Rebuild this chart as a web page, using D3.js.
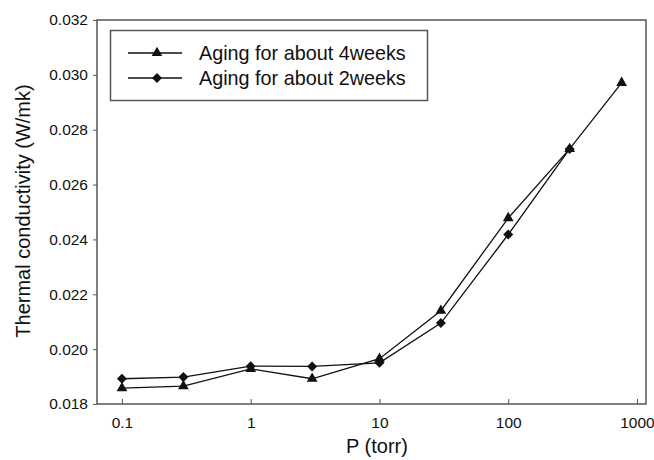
<!DOCTYPE html>
<html>
<head>
<meta charset="utf-8">
<script src="https://cdn.jsdelivr.net/npm/d3@7/dist/d3.min.js"></script>
<style>
  html, body { margin: 0; padding: 0; background: #fff; }
  svg { display: block; font-family: "Liberation Sans", Arial, sans-serif; }
</style>
</head>
<body>
<svg id="chart" width="654" height="460"></svg>
<script>
// Pressure (torr) for each measurement
const pressure4w = [0.1, 0.3, 1, 3, 10, 30, 100, 300, 760];
const conductivity4w = [0.01858, 0.01865, 0.01928, 0.01892, 0.01965, 0.0214, 0.02478, 0.0273, 0.02971];
const pressure2w = [0.1, 0.3, 1, 3, 10, 30, 100, 300];
const conductivity2w = [0.01892, 0.01898, 0.01938, 0.01937, 0.0195, 0.02095, 0.02418, 0.0273];

const xTicks = [0.1, 1, 10, 100, 1000];
const yTicks = [0.018, 0.020, 0.022, 0.024, 0.026, 0.028, 0.030, 0.032];
const seriesNames = ["Aging for about 4weeks", "Aging for about 2weeks"];

const svg = d3.select("#chart");
const plotL = 97, plotR = 646, plotT = 20, plotB = 404;

const x = d3.scaleLog().domain([0.064, 1175]).range([plotL, plotR]);
const y = d3.scaleLinear().domain([0.018, 0.032]).range([plotB, plotT]);

const frameColor = "#555";
const ink = "#111";

// plot frame
svg.append("rect")
  .attr("x", plotL).attr("y", plotT)
  .attr("width", plotR - plotL).attr("height", plotB - plotT)
  .attr("fill", "none").attr("stroke", frameColor).attr("stroke-width", 1.5);

// y axis: outward ticks
const yAxis = d3.axisLeft(y).tickValues(yTicks).tickFormat(d3.format(".3f")).tickSize(4).tickPadding(5);
const gy = svg.append("g").attr("transform", `translate(${plotL},0)`).call(yAxis);
gy.select(".domain").remove();
gy.selectAll("line").attr("stroke", frameColor).attr("stroke-width", 1);
gy.selectAll("text").attr("font-size", 15.5).attr("fill", ink).attr("font-family", "Liberation Sans, Arial, sans-serif");

// x axis: inward ticks
const xAxis = d3.axisBottom(x).tickValues(xTicks).tickFormat(d => String(d)).tickSize(-5).tickPadding(13);
const gx = svg.append("g").attr("transform", `translate(0,${plotB})`).call(xAxis);
gx.select(".domain").remove();
gx.selectAll("line").attr("stroke", frameColor).attr("stroke-width", 1);
gx.selectAll("text").attr("font-size", 15.5).attr("fill", ink).attr("font-family", "Liberation Sans, Arial, sans-serif");

// axis titles
svg.append("text")
  .attr("x", 377).attr("y", 453)
  .attr("text-anchor", "middle").attr("font-size", 20).attr("fill", ink)
  .text("P (torr)");
svg.append("text")
  .attr("transform", "translate(30,211) rotate(-90)")
  .attr("text-anchor", "middle").attr("font-size", 20).attr("fill", ink)
  .text("Thermal conductivity (W/mk)");

const line = d3.line().x(d => x(d[0])).y(d => y(d[1]));
const tri = d3.symbol().type(d3.symbolTriangle).size(50);
const dia = d3.symbol().type(d3.symbolDiamond2).size(64);

const data4w = pressure4w.map((p, i) => [p, conductivity4w[i]]);
const data2w = pressure2w.map((p, i) => [p, conductivity2w[i]]);

function drawSeries(data, sym) {
  svg.append("path").datum(data)
    .attr("d", line).attr("fill", "none")
    .attr("stroke", ink).attr("stroke-width", 1.3);
  svg.selectAll(null).data(data).enter().append("path")
    .attr("d", sym)
    .attr("transform", d => `translate(${x(d[0])},${y(d[1])})`)
    .attr("fill", ink);
}
drawSeries(data4w, tri);
drawSeries(data2w, dia);

// legend
const lg = svg.append("g");
lg.append("rect")
  .attr("x", 110.5).attr("y", 30.5).attr("width", 317).attr("height", 70)
  .attr("fill", "#fff").attr("stroke", frameColor).attr("stroke-width", 1.5);
const rows = [
  { name: seriesNames[0], sym: tri, yy: 53 },
  { name: seriesNames[1], sym: dia, yy: 78 }
];
rows.forEach(r => {
  lg.append("line").attr("x1", 128).attr("x2", 182).attr("y1", r.yy).attr("y2", r.yy)
    .attr("stroke", ink).attr("stroke-width", 1.3);
  lg.append("path").attr("d", r.sym).attr("transform", `translate(157,${r.yy})`).attr("fill", ink);
  lg.append("text").attr("x", 199).attr("y", r.yy).attr("dy", "0.35em")
    .attr("font-size", 19.8).attr("fill", ink).text(r.name);
});
</script>
</body>
</html>
